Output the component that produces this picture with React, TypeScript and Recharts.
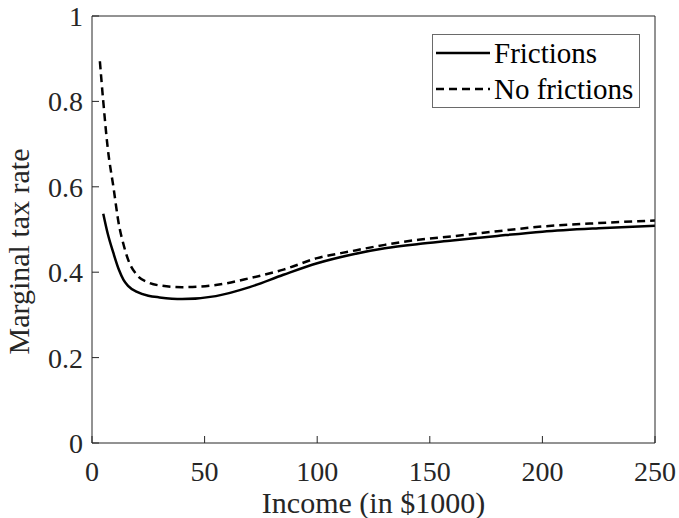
import { Line, LineChart, XAxis, YAxis } from "recharts";

// Income grid (in $1000) and marginal tax rates for both scenarios
const income = [3.5, 5, 7, 9.5, 12, 14, 16, 20, 25, 30, 40, 55, 70, 85, 100, 115, 130, 145, 160, 180, 200, 225, 250];
const frictions = [null, 0.537, 0.49, 0.445, 0.405, 0.382, 0.368, 0.354, 0.345, 0.341, 0.337, 0.344, 0.365, 0.394, 0.421, 0.441, 0.456, 0.466, 0.474, 0.485, 0.495, 0.503, 0.509];
const noFrictions = [0.894, 0.8, 0.69, 0.6, 0.51, 0.465, 0.43, 0.393, 0.376, 0.369, 0.365, 0.37, 0.386, 0.406, 0.433, 0.449, 0.464, 0.476, 0.484, 0.496, 0.507, 0.515, 0.521];

const xTicks = [0, 50, 100, 150, 200, 250];
const yTicks = [0, 0.2, 0.4, 0.6, 0.8, 1];

const seriesNames = ["Frictions", "No frictions"];
const seriesDash = [undefined, "8 5"];

const data = income.map((x, i) => ({ x, frictions: frictions[i], noFrictions: noFrictions[i] }));

const FONT = "'Liberation Serif', 'Times New Roman', serif";
const AXIS = "#262626";

const LegendBox = () => (
  <div
    style={{
      position: "absolute",
      left: 432,
      top: 34,
      border: "1px solid #6a6a6a",
      background: "#fff",
      fontFamily: FONT,
      fontSize: 29,
      color: "#000",
      padding: "0px 6px 0px 3px",
      lineHeight: "36px",
    }}
  >
    {seriesNames.map((name, i) => (
      <div key={name} style={{ display: "flex", alignItems: "center" }}>
        <svg width={54} height={10} style={{ marginRight: 4 }}>
          <line x1={0} x2={54} y1={5} y2={5} stroke="#000" strokeWidth={2.5} strokeDasharray={seriesDash[i]} />
        </svg>
        <span>{name}</span>
      </div>
    ))}
  </div>
);

export default function App() {
  return (
    <div style={{ position: "absolute", left: 0, top: 0, width: 679, height: 518, background: "#fff" }}>
      <LineChart width={679} height={518} data={data} margin={{ top: 15, right: 23, left: 0, bottom: 0 }}>
        <XAxis
          dataKey="x"
          type="number"
          domain={[0, 250]}
          ticks={xTicks}
          height={75}
          stroke={AXIS}
          tickSize={-7}
          tickMargin={25}
          tick={{ fill: "#262626", fontSize: 28, fontFamily: FONT }}
          label={{ value: "Income (in $1000)", position: "insideBottom", offset: 5, fill: "#262626", fontSize: 30, fontFamily: FONT }}
        />
        <XAxis xAxisId="top" orientation="top" type="number" domain={[0, 250]} ticks={xTicks} height={1} stroke={AXIS} tickSize={-7} tick={false} />
        <YAxis
          type="number"
          domain={[0, 1]}
          ticks={yTicks}
          width={92}
          stroke={AXIS}
          tickSize={-7}
          tickMargin={16}
          tickFormatter={(v) => String(v)}
          tick={{ fill: "#262626", fontSize: 28, fontFamily: FONT }}
          label={{ value: "Marginal tax rate", angle: -90, position: "insideLeft", offset: 18, dy: 22, fill: "#262626", fontSize: 30, fontFamily: FONT, style: { textAnchor: "middle" } }}
        />
        <YAxis yAxisId="right" orientation="right" type="number" domain={[0, 1]} ticks={yTicks} width={1} stroke={AXIS} tickSize={-7} tick={false} />
        <Line type="monotone" dataKey="noFrictions" stroke="#000" strokeWidth={2.5} strokeDasharray="8 5" dot={false} isAnimationActive={false} />
        <Line type="monotone" dataKey="frictions" stroke="#000" strokeWidth={2.5} dot={false} isAnimationActive={false} />
      </LineChart>
      <LegendBox />
    </div>
  );
}
